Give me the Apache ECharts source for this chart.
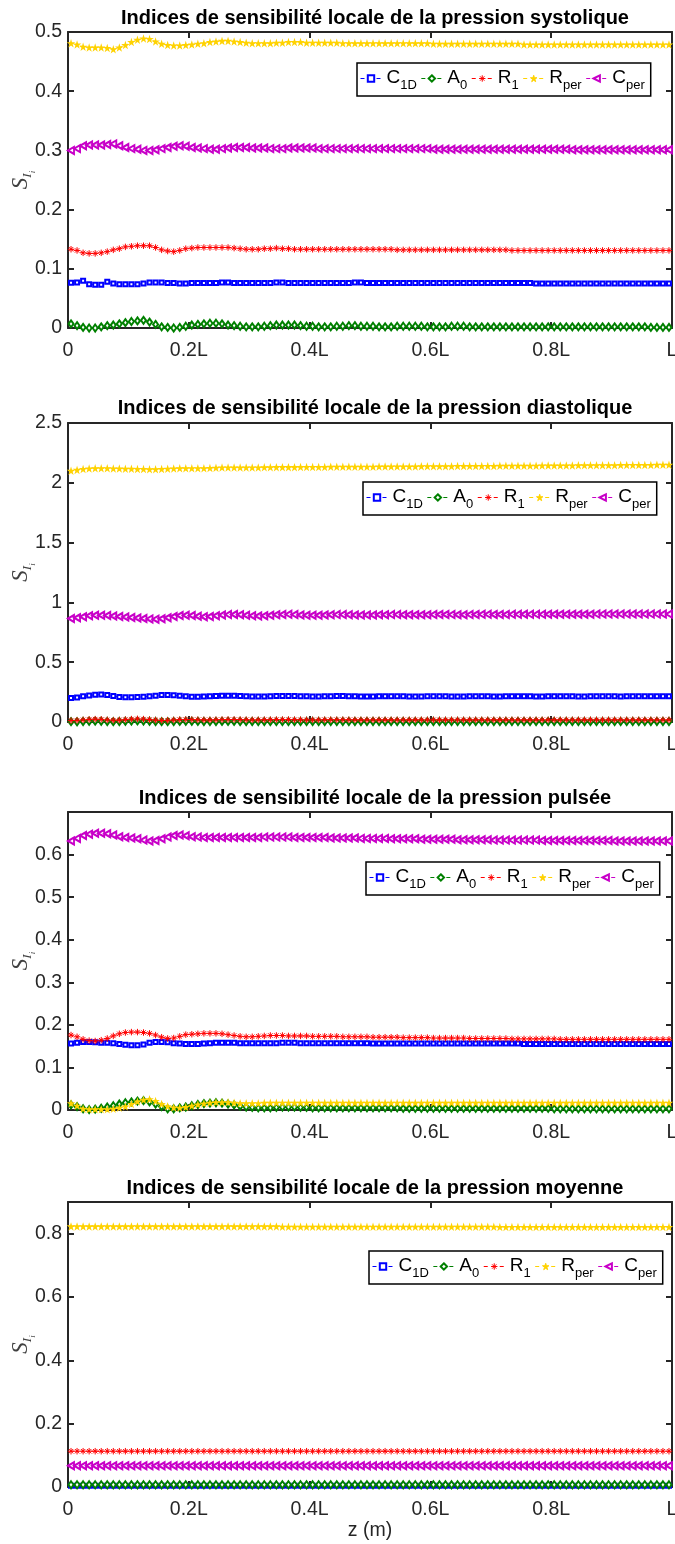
<!DOCTYPE html>
<html><head><meta charset="utf-8">
<script src="https://cdn.jsdelivr.net/npm/echarts@6/dist/echarts.min.js"></script>
<style>html,body{margin:0;padding:0;background:#fff}#c{width:675px;height:1544px}</style>
</head><body><div id="c"></div>
<script>
// ---- data ----
const seriesNames = ['C1D','A0','R1','Rper','Cper'];
const panelTitles = [
 'Indices de sensibilité locale de la pression systolique',
 'Indices de sensibilité locale de la pression diastolique',
 'Indices de sensibilité locale de la pression pulsée',
 'Indices de sensibilité locale de la pression moyenne'];
const xTickLabels = ['0','0.2L','0.4L','0.6L','0.8L','L'];
const yTickLabels = [
 ['0','0.1','0.2','0.3','0.4','0.5'],
 ['0','0.5','1','1.5','2','2.5'],
 ['0','0.1','0.2','0.3','0.4','0.5','0.6'],
 ['0','0.2','0.4','0.6','0.8']];
// position along the vessel (fraction of L), 100 sample points
const zPos = Array.from({length:100},(_, i)=> +((i+0.5)/100).toFixed(3));

// systolic
const sysC1D = [0.0765,0.077,0.080,0.074,0.073,0.073,0.078,0.075,0.074,0.074,
 0.074,0.074,0.075,0.077,0.077,0.077,0.076,0.076,0.075,0.075,
 0.076,0.076,0.076,0.076,0.076,0.077,0.077,0.076,0.076,0.076,
 0.076,0.076,0.076,0.076,0.077,0.077,0.076,0.076,0.076,0.076,
 0.076,0.076,0.076,0.076,0.076,0.076,0.076,0.077,0.077,0.076,
 0.076,0.076,0.076,0.076,0.076,0.076,0.076,0.076,0.076,0.076,
 0.076,0.076,0.076,0.076,0.076,0.076,0.076,0.076,0.076,0.076,
 0.076,0.076,0.076,0.076,0.076,0.076,0.076,0.075,0.075,0.075,
 0.075,0.075,0.075,0.075,0.075,0.075,0.075,0.075,0.075,0.075,
 0.075,0.075,0.075,0.075,0.075,0.075,0.075,0.075,0.075,0.075];
const sysA0 = [0.007,0.004,0.001,0.000,0.000,0.002,0.004,0.005,0.007,0.009,
 0.011,0.012,0.013,0.010,0.006,0.002,0.001,0.000,0.001,0.003,
 0.005,0.006,0.007,0.008,0.008,0.007,0.005,0.004,0.003,0.002,
 0.002,0.002,0.003,0.004,0.005,0.005,0.005,0.005,0.004,0.003,
 0.003,0.002,0.002,0.002,0.003,0.003,0.004,0.004,0.003,0.003,
 0.003,0.002,0.002,0.002,0.003,0.003,0.003,0.003,0.003,0.002,
 0.002,0.002,0.002,0.003,0.003,0.003,0.002,0.002,0.002,0.002,
 0.002,0.002,0.002,0.002,0.002,0.002,0.002,0.002,0.002,0.002,
 0.002,0.002,0.002,0.002,0.002,0.002,0.002,0.002,0.002,0.002,
 0.002,0.002,0.002,0.002,0.002,0.002,0.001,0.001,0.001,0.001];
const sysR1 = [0.133,0.131,0.127,0.126,0.126,0.127,0.129,0.132,0.134,0.137,
 0.138,0.139,0.139,0.139,0.136,0.132,0.130,0.129,0.131,0.134,
 0.135,0.136,0.136,0.136,0.136,0.136,0.136,0.135,0.134,0.133,
 0.133,0.133,0.134,0.134,0.135,0.134,0.134,0.133,0.133,0.133,
 0.133,0.133,0.133,0.133,0.133,0.133,0.133,0.133,0.133,0.133,
 0.133,0.133,0.133,0.133,0.132,0.132,0.132,0.132,0.132,0.132,
 0.132,0.132,0.132,0.132,0.132,0.132,0.132,0.132,0.132,0.132,
 0.132,0.132,0.132,0.131,0.131,0.131,0.131,0.131,0.131,0.131,
 0.131,0.131,0.131,0.131,0.131,0.131,0.131,0.131,0.131,0.131,
 0.131,0.131,0.131,0.131,0.131,0.131,0.131,0.131,0.131,0.131];
const sysRper = [0.481,0.479,0.475,0.474,0.474,0.474,0.473,0.471,0.474,0.478,
 0.483,0.487,0.489,0.488,0.484,0.480,0.478,0.477,0.477,0.478,
 0.479,0.480,0.481,0.483,0.484,0.485,0.485,0.484,0.483,0.482,
 0.481,0.481,0.481,0.481,0.482,0.482,0.483,0.483,0.483,0.482,
 0.482,0.482,0.482,0.482,0.482,0.481,0.481,0.481,0.481,0.481,
 0.481,0.481,0.481,0.481,0.481,0.481,0.481,0.481,0.481,0.481,
 0.480,0.480,0.480,0.480,0.480,0.480,0.480,0.480,0.480,0.480,
 0.480,0.480,0.480,0.480,0.480,0.479,0.479,0.479,0.479,0.479,
 0.479,0.479,0.479,0.479,0.479,0.479,0.479,0.479,0.479,0.479,
 0.479,0.479,0.479,0.479,0.479,0.479,0.479,0.479,0.479,0.479];
const sysCper = [0.300,0.303,0.308,0.309,0.309,0.309,0.310,0.311,0.308,0.305,
 0.303,0.302,0.300,0.300,0.301,0.303,0.305,0.307,0.308,0.307,
 0.305,0.304,0.303,0.302,0.302,0.303,0.304,0.305,0.305,0.305,
 0.304,0.304,0.304,0.303,0.303,0.303,0.304,0.304,0.304,0.304,
 0.304,0.303,0.303,0.303,0.303,0.303,0.303,0.303,0.303,0.303,
 0.303,0.303,0.303,0.303,0.303,0.303,0.303,0.303,0.303,0.303,
 0.302,0.302,0.302,0.302,0.302,0.302,0.302,0.302,0.302,0.302,
 0.302,0.302,0.302,0.302,0.302,0.302,0.302,0.302,0.302,0.302,
 0.302,0.302,0.302,0.301,0.301,0.301,0.301,0.301,0.301,0.301,
 0.301,0.301,0.301,0.301,0.301,0.301,0.301,0.301,0.301,0.301];

// diastolic
const diaC1D = [0.200,0.205,0.215,0.222,0.228,0.230,0.226,0.218,0.210,0.206,
 0.206,0.208,0.211,0.215,0.220,0.225,0.226,0.224,0.220,0.215,
 0.212,0.212,0.213,0.215,0.217,0.219,0.220,0.220,0.218,0.215,
 0.213,0.213,0.214,0.216,0.217,0.218,0.218,0.217,0.216,0.215,
 0.214,0.214,0.215,0.216,0.217,0.217,0.216,0.215,0.214,0.214,
 0.214,0.215,0.216,0.216,0.216,0.215,0.214,0.214,0.214,0.215,
 0.216,0.216,0.215,0.214,0.214,0.214,0.215,0.216,0.216,0.215,
 0.214,0.214,0.215,0.215,0.216,0.216,0.215,0.214,0.214,0.215,
 0.215,0.216,0.216,0.215,0.214,0.214,0.215,0.215,0.216,0.215,
 0.215,0.214,0.215,0.215,0.216,0.216,0.215,0.215,0.215,0.215];
const diaA0 = [0.003,0.002,0.004,0.006,0.007,0.006,0.004,0.003,0.004,0.006,
 0.008,0.009,0.008,0.006,0.004,0.003,0.003,0.004,0.005,0.006,
 0.006,0.005,0.004,0.004,0.004,0.005,0.005,0.005,0.004,0.004,
 0.004,0.004,0.004,0.004,0.004,0.004,0.004,0.004,0.004,0.004,
 0.004,0.004,0.004,0.004,0.004,0.004,0.004,0.004,0.004,0.004,
 0.004,0.004,0.004,0.004,0.004,0.004,0.004,0.004,0.004,0.004,
 0.004,0.004,0.004,0.004,0.004,0.004,0.004,0.004,0.004,0.004,
 0.004,0.004,0.004,0.004,0.004,0.004,0.004,0.004,0.004,0.004,
 0.004,0.004,0.004,0.004,0.004,0.004,0.004,0.004,0.004,0.004,
 0.004,0.004,0.004,0.004,0.004,0.004,0.004,0.004,0.004,0.004];
const diaR1 = [0.012,0.014,0.018,0.022,0.024,0.022,0.018,0.015,0.016,0.020,
 0.024,0.026,0.024,0.020,0.016,0.013,0.014,0.017,0.020,0.021,
 0.020,0.019,0.018,0.018,0.019,0.020,0.021,0.021,0.020,0.019,
 0.018,0.018,0.019,0.019,0.020,0.020,0.020,0.019,0.019,0.018,
 0.018,0.018,0.019,0.019,0.019,0.019,0.019,0.018,0.018,0.018,
 0.018,0.018,0.018,0.018,0.018,0.018,0.018,0.018,0.018,0.018,
 0.018,0.018,0.018,0.018,0.018,0.018,0.018,0.018,0.018,0.018,
 0.018,0.018,0.018,0.018,0.018,0.018,0.018,0.018,0.018,0.018,
 0.018,0.018,0.018,0.018,0.018,0.018,0.018,0.018,0.018,0.018,
 0.018,0.018,0.018,0.018,0.018,0.018,0.018,0.018,0.018,0.018];
const diaRper = [2.100,2.108,2.115,2.120,2.122,2.122,2.121,2.120,2.119,2.118,
 2.117,2.116,2.115,2.114,2.114,2.116,2.118,2.120,2.122,2.122,
 2.121,2.121,2.122,2.124,2.126,2.127,2.127,2.127,2.127,2.127,
 2.128,2.128,2.129,2.130,2.131,2.131,2.131,2.131,2.132,2.132,
 2.133,2.133,2.133,2.134,2.134,2.134,2.134,2.135,2.135,2.135,
 2.135,2.136,2.136,2.136,2.137,2.137,2.137,2.137,2.138,2.138,
 2.138,2.139,2.139,2.139,2.140,2.140,2.140,2.140,2.141,2.141,
 2.141,2.142,2.142,2.142,2.143,2.143,2.143,2.143,2.144,2.144,
 2.144,2.145,2.145,2.145,2.146,2.146,2.146,2.146,2.147,2.147,
 2.147,2.148,2.148,2.148,2.149,2.149,2.149,2.150,2.150,2.150];
const diaCper = [0.865,0.872,0.880,0.888,0.892,0.893,0.890,0.886,0.882,0.878,
 0.874,0.870,0.866,0.862,0.860,0.864,0.872,0.882,0.890,0.893,
 0.890,0.884,0.880,0.882,0.888,0.894,0.898,0.899,0.897,0.892,
 0.888,0.886,0.888,0.892,0.896,0.899,0.900,0.898,0.895,0.893,
 0.892,0.893,0.895,0.897,0.898,0.898,0.897,0.895,0.894,0.894,
 0.895,0.896,0.897,0.898,0.898,0.897,0.896,0.896,0.896,0.897,
 0.898,0.899,0.899,0.898,0.897,0.897,0.898,0.899,0.900,0.900,
 0.899,0.899,0.899,0.900,0.900,0.901,0.900,0.900,0.900,0.901,
 0.901,0.901,0.901,0.901,0.901,0.901,0.901,0.902,0.902,0.902,
 0.902,0.902,0.902,0.902,0.902,0.902,0.902,0.902,0.902,0.902];

// pulse
const pulC1D = [0.156,0.158,0.160,0.160,0.159,0.158,0.158,0.157,0.155,0.153,
 0.152,0.152,0.154,0.158,0.160,0.160,0.159,0.157,0.156,0.155,
 0.155,0.155,0.156,0.157,0.158,0.158,0.158,0.158,0.157,0.157,
 0.157,0.157,0.157,0.157,0.157,0.158,0.158,0.158,0.157,0.157,
 0.157,0.157,0.157,0.157,0.157,0.157,0.157,0.157,0.157,0.157,
 0.156,0.156,0.156,0.156,0.156,0.156,0.156,0.156,0.156,0.156,
 0.156,0.156,0.156,0.156,0.156,0.156,0.156,0.156,0.156,0.156,
 0.156,0.156,0.156,0.156,0.156,0.155,0.155,0.155,0.155,0.155,
 0.155,0.155,0.155,0.155,0.155,0.155,0.155,0.155,0.155,0.155,
 0.155,0.155,0.155,0.155,0.155,0.155,0.155,0.155,0.155,0.155];
const pulA0 = [0.012,0.008,0.003,0.001,0.002,0.004,0.007,0.010,0.014,0.017,
 0.019,0.021,0.022,0.019,0.014,0.008,0.003,0.003,0.005,0.007,
 0.010,0.013,0.015,0.016,0.017,0.016,0.014,0.012,0.009,0.007,
 0.006,0.005,0.005,0.005,0.006,0.007,0.007,0.007,0.006,0.006,
 0.005,0.005,0.005,0.005,0.005,0.005,0.005,0.005,0.005,0.005,
 0.005,0.005,0.005,0.005,0.005,0.004,0.004,0.004,0.004,0.004,
 0.004,0.004,0.004,0.004,0.004,0.004,0.004,0.004,0.004,0.004,
 0.004,0.004,0.004,0.004,0.004,0.004,0.004,0.004,0.004,0.004,
 0.003,0.003,0.003,0.003,0.003,0.003,0.003,0.003,0.003,0.003,
 0.003,0.003,0.003,0.003,0.003,0.003,0.003,0.003,0.003,0.003];
const pulR1 = [0.176,0.172,0.166,0.163,0.162,0.164,0.168,0.174,0.179,0.182,
 0.183,0.183,0.182,0.180,0.176,0.171,0.168,0.169,0.173,0.177,
 0.178,0.179,0.180,0.180,0.180,0.179,0.177,0.175,0.173,0.172,
 0.172,0.173,0.174,0.175,0.175,0.175,0.174,0.174,0.174,0.174,
 0.173,0.173,0.173,0.173,0.173,0.172,0.172,0.172,0.172,0.172,
 0.171,0.171,0.171,0.171,0.171,0.170,0.170,0.170,0.170,0.170,
 0.169,0.169,0.169,0.169,0.169,0.169,0.168,0.168,0.168,0.168,
 0.168,0.168,0.168,0.167,0.167,0.167,0.167,0.167,0.167,0.167,
 0.167,0.166,0.166,0.166,0.166,0.166,0.166,0.166,0.166,0.166,
 0.166,0.166,0.166,0.166,0.166,0.166,0.166,0.166,0.166,0.166];
const pulRper = [0.016,0.010,0.003,0.002,0.002,0.002,0.002,0.003,0.005,0.008,
 0.014,0.020,0.024,0.025,0.021,0.014,0.009,0.006,0.005,0.007,
 0.010,0.013,0.015,0.017,0.018,0.018,0.018,0.017,0.016,0.016,
 0.016,0.016,0.017,0.017,0.017,0.017,0.017,0.017,0.017,0.017,
 0.017,0.017,0.017,0.017,0.017,0.017,0.017,0.017,0.017,0.017,
 0.017,0.017,0.017,0.017,0.017,0.017,0.017,0.017,0.017,0.017,
 0.017,0.017,0.017,0.017,0.017,0.017,0.017,0.017,0.017,0.017,
 0.017,0.017,0.017,0.017,0.017,0.017,0.017,0.017,0.017,0.017,
 0.017,0.017,0.017,0.017,0.017,0.017,0.017,0.017,0.017,0.017,
 0.017,0.017,0.017,0.017,0.017,0.017,0.017,0.017,0.017,0.017];
const pulCper = [0.632,0.638,0.645,0.648,0.650,0.650,0.649,0.646,0.642,0.640,
 0.639,0.637,0.634,0.632,0.633,0.637,0.641,0.645,0.646,0.644,
 0.642,0.641,0.640,0.640,0.640,0.640,0.640,0.640,0.640,0.640,
 0.640,0.640,0.641,0.641,0.641,0.641,0.641,0.640,0.640,0.640,
 0.640,0.640,0.640,0.639,0.639,0.639,0.639,0.639,0.638,0.638,
 0.638,0.638,0.638,0.637,0.637,0.637,0.637,0.637,0.636,0.636,
 0.636,0.636,0.636,0.636,0.635,0.635,0.635,0.635,0.635,0.635,
 0.634,0.634,0.634,0.634,0.634,0.634,0.634,0.634,0.633,0.633,
 0.633,0.633,0.633,0.633,0.633,0.633,0.633,0.633,0.633,0.633,
 0.632,0.632,0.632,0.632,0.632,0.632,0.632,0.632,0.632,0.632];

// mean
const meanC1D = [0.004,0.004,0.004,0.004,0.004,0.004,0.004,0.004,0.004,0.004,
 0.004,0.004,0.004,0.004,0.004,0.004,0.004,0.004,0.004,0.004,
 0.004,0.004,0.004,0.004,0.004,0.004,0.004,0.004,0.004,0.004,
 0.004,0.004,0.004,0.004,0.004,0.004,0.004,0.004,0.004,0.004,
 0.004,0.004,0.004,0.004,0.004,0.004,0.004,0.004,0.004,0.004,
 0.004,0.004,0.004,0.004,0.004,0.004,0.004,0.004,0.004,0.004,
 0.004,0.004,0.004,0.004,0.004,0.004,0.004,0.004,0.004,0.004,
 0.004,0.004,0.004,0.004,0.004,0.004,0.004,0.004,0.004,0.004,
 0.004,0.004,0.004,0.004,0.004,0.004,0.004,0.004,0.004,0.004,
 0.004,0.004,0.004,0.004,0.004,0.004,0.004,0.004,0.004,0.004];
const meanA0 = [0.007,0.007,0.007,0.007,0.007,0.007,0.007,0.007,0.007,0.007,
 0.007,0.007,0.007,0.007,0.007,0.007,0.007,0.007,0.007,0.007,
 0.007,0.007,0.007,0.007,0.007,0.007,0.007,0.007,0.007,0.007,
 0.007,0.007,0.007,0.007,0.007,0.007,0.007,0.007,0.007,0.007,
 0.007,0.007,0.007,0.007,0.007,0.007,0.007,0.007,0.007,0.007,
 0.007,0.007,0.007,0.007,0.007,0.007,0.007,0.007,0.007,0.007,
 0.007,0.007,0.007,0.007,0.007,0.007,0.007,0.007,0.007,0.007,
 0.007,0.007,0.007,0.007,0.007,0.007,0.007,0.007,0.007,0.007,
 0.007,0.007,0.007,0.007,0.007,0.007,0.007,0.007,0.007,0.007,
 0.007,0.007,0.007,0.007,0.007,0.007,0.007,0.007,0.007,0.007];
const meanR1 = [0.113,0.113,0.113,0.113,0.113,0.113,0.113,0.113,0.113,0.113,
 0.113,0.113,0.113,0.113,0.113,0.113,0.113,0.113,0.113,0.113,
 0.113,0.113,0.113,0.113,0.113,0.113,0.113,0.113,0.113,0.113,
 0.113,0.113,0.113,0.113,0.113,0.113,0.113,0.113,0.113,0.113,
 0.113,0.113,0.113,0.113,0.113,0.113,0.113,0.113,0.113,0.113,
 0.113,0.113,0.113,0.113,0.113,0.113,0.113,0.113,0.113,0.113,
 0.113,0.113,0.113,0.113,0.113,0.113,0.113,0.113,0.113,0.113,
 0.113,0.113,0.113,0.113,0.113,0.113,0.113,0.113,0.113,0.113,
 0.113,0.113,0.113,0.113,0.113,0.113,0.113,0.113,0.113,0.113,
 0.113,0.113,0.113,0.113,0.113,0.113,0.113,0.113,0.113,0.113];
const meanRper = [0.823,0.823,0.823,0.823,0.823,0.823,0.823,0.823,0.823,0.823,
 0.823,0.823,0.823,0.823,0.823,0.823,0.823,0.823,0.823,0.823,
 0.823,0.823,0.823,0.823,0.823,0.823,0.823,0.823,0.823,0.823,
 0.823,0.823,0.823,0.823,0.823,0.822,0.822,0.822,0.822,0.822,
 0.822,0.822,0.822,0.822,0.822,0.822,0.822,0.822,0.822,0.822,
 0.822,0.822,0.822,0.822,0.822,0.822,0.822,0.822,0.822,0.822,
 0.822,0.822,0.822,0.822,0.822,0.822,0.822,0.822,0.822,0.822,
 0.822,0.821,0.821,0.821,0.821,0.821,0.821,0.821,0.821,0.821,
 0.821,0.821,0.821,0.821,0.821,0.821,0.821,0.821,0.821,0.821,
 0.821,0.821,0.821,0.821,0.821,0.821,0.821,0.821,0.821,0.821];
const meanCper = [0.067,0.067,0.067,0.067,0.067,0.067,0.067,0.067,0.067,0.067,
 0.067,0.067,0.067,0.067,0.067,0.067,0.067,0.067,0.067,0.067,
 0.067,0.067,0.067,0.067,0.067,0.067,0.067,0.067,0.067,0.067,
 0.067,0.067,0.067,0.067,0.067,0.067,0.067,0.067,0.067,0.067,
 0.067,0.067,0.067,0.067,0.067,0.067,0.067,0.067,0.067,0.067,
 0.067,0.067,0.067,0.067,0.067,0.067,0.067,0.067,0.067,0.067,
 0.067,0.067,0.067,0.067,0.067,0.067,0.067,0.067,0.067,0.067,
 0.067,0.067,0.067,0.067,0.067,0.067,0.067,0.067,0.067,0.067,
 0.067,0.067,0.067,0.067,0.067,0.067,0.067,0.067,0.067,0.067,
 0.067,0.067,0.067,0.067,0.067,0.067,0.067,0.067,0.067,0.067];

const panels = [
 [sysC1D, sysA0, sysR1, sysRper, sysCper],
 [diaC1D, diaA0, diaR1, diaRper, diaCper],
 [pulC1D, pulA0, pulR1, pulRper, pulCper],
 [meanC1D, meanA0, meanR1, meanRper, meanCper]];
const yMax = [0.5, 2.5, 0.7, 0.9];
const yInterval = [0.1, 0.5, 0.1, 0.2];

// ---- style ----
const FONT = 'Liberation Sans, Arial, Helvetica, sans-serif';
const SERIF = 'Liberation Serif, DejaVu Serif, serif';
const AX = '#262626';
const colors = ['#0000FF','#008000','#FF0000','#FFD200','#C800C8'];
const ASTER = 'path://M5,0L5,10M0,5L10,5M1.6,1.6L8.4,8.4M1.6,8.4L8.4,1.6';
const STAR = 'path://M50,0L61.8,36.2L100,36.2L69.1,58.8L80.9,95.1L50,72.7L19.1,95.1L30.9,58.8L0,36.2L38.2,36.2Z';
const sym = [
 {symbol:'emptyRect', size:4, rotate:0, bw:0.9},
 {symbol:'emptyDiamond', size:[5,7], rotate:0, bw:0.9},
 {symbol:ASTER, size:6.5, rotate:0, bw:1},
 {symbol:STAR, size:8.5, rotate:0, bw:0},
 {symbol:'emptyTriangle', size:[7,6], rotate:90, bw:0.9}];
const grids = [
 {left:68, right:3, top:32, height:296, outerBoundsMode:'none'},
 {left:68, right:3, top:423, height:299, outerBoundsMode:'none'},
 {left:68, right:3, top:812, height:298, outerBoundsMode:'none'},
 {left:68, right:3, top:1202, height:285, outerBoundsMode:'none'}];
const titleTops = [3, 393, 783, 1173];
const legendPos = [[357,63],[363,482],[366,862],[369,1251]];

const xAxes = [], yAxes = [], series = [], titles = [], legends = [];
const fmtNum = v => String(Math.round(v*1000)/1000);
const lineAx = {onZero:false, lineStyle:{color:AX, width:2}};
const tickAx = {inside:true, length:6, lineStyle:{color:AX, width:2}};
grids.forEach((g, p) => {
  xAxes.push({type:'value', gridIndex:p, min:0, max:1, interval:0.2, position:'bottom',
    axisLine:lineAx, axisTick:tickAx, splitLine:{show:false},
    axisLabel:{color:AX, fontFamily:FONT, fontSize:19.5, margin:13,
      formatter: v => xTickLabels[Math.round(v*5)]},
    name: p===3 ? 'z (m)' : '', nameLocation:'middle', nameGap:34, nameMoveOverlap:false,
    nameTextStyle:{color:AX, fontFamily:FONT, fontSize:19.5}});
  xAxes.push({type:'value', gridIndex:p, min:0, max:1, interval:0.2, position:'top',
    axisLine:lineAx, axisTick:tickAx, axisLabel:{show:false}, splitLine:{show:false}});
  yAxes.push({type:'value', gridIndex:p, min:0, max:yMax[p], interval:yInterval[p], position:'left',
    axisLine:lineAx, axisTick:tickAx, splitLine:{show:false},
    axisLabel:{color:AX, fontFamily:FONT, fontSize:19.5, margin:6,
      formatter: v => yTickLabels[p].includes(fmtNum(v)) ? fmtNum(v) : ''},
    name:'{s|S}{a|I}{b|i}', nameLocation:'middle', nameRotate:90, nameGap:35, nameMoveOverlap:false,
    nameTextStyle:{rich:{
      s:{fontFamily:SERIF, fontStyle:'italic', fontSize:23, color:'#404040', lineHeight:24, verticalAlign:'top'},
      a:{fontFamily:SERIF, fontStyle:'italic', fontSize:13, color:'#404040', lineHeight:14, padding:[12,0,0,0], verticalAlign:'top'},
      b:{fontFamily:SERIF, fontStyle:'italic', fontSize:9, color:'#404040', lineHeight:10, padding:[19,0,0,0], verticalAlign:'top'}}}});
  yAxes.push({type:'value', gridIndex:p, min:0, max:yMax[p], interval:yInterval[p], position:'right',
    axisLine:lineAx, axisTick:tickAx, axisLabel:{show:false}, splitLine:{show:false}});
  panels[p].forEach((arr, k) => {
    series.push({type:'line', name:seriesNames[k], xAxisIndex:2*p, yAxisIndex:2*p,
      data: zPos.map((z, i) => [z, arr[i]]),
      symbol: sym[k].symbol, symbolSize: sym[k].size, symbolRotate: sym[k].rotate,
      showAllSymbol:true, showSymbol:true,
      lineStyle:{color:colors[k], width:0.8, type:[3,2]},
      itemStyle:{color:colors[k], borderColor:colors[k], borderWidth:sym[k].bw},
      emphasis:{disabled:true}, silent:true, z: 2+k});
  });
  titles.push({text:panelTitles[p], left:370, top:titleTops[p], textAlign:'center',
    textStyle:{fontFamily:FONT, fontSize:20, fontWeight:'bold', color:'#000'}});
  legends.push({left:legendPos[p][0], top:legendPos[p][1], orient:'horizontal',
    data: seriesNames, itemWidth:21, itemHeight:8, itemGap:4,
    padding:[5,6,4,3], borderColor:'#000', borderWidth:1.5, backgroundColor:'#fff',
    selectedMode:false,
    lineStyle:{type:[4,4], width:1},
    itemStyle:{borderWidth:1},
    formatter: n => {
      const m = {C1D:['C','1D'], A0:['A','0'], R1:['R','1'], Rper:['R','per'], Cper:['C','per']}[n];
      return '{m|' + m[0] + '}{s|' + m[1] + '}';
    },
    textStyle:{rich:{
      m:{fontFamily:FONT, fontSize:19, color:'#000', lineHeight:21, verticalAlign:'top'},
      s:{fontFamily:FONT, fontSize:13, color:'#000', lineHeight:14, padding:[11,0,0,0], verticalAlign:'top'}}}});
});

const chart = echarts.init(document.getElementById('c'), null, {renderer:'canvas'});
chart.setOption({animation:false, backgroundColor:'#fff', title:titles, legend:legends,
  grid:grids, xAxis:xAxes, yAxis:yAxes, series:series});
</script></body></html>
